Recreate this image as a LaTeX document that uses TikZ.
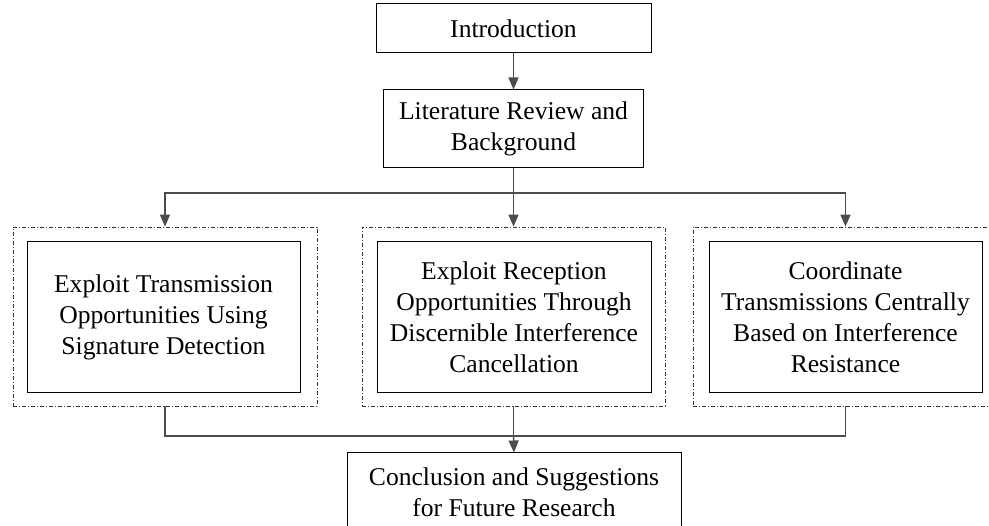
\documentclass[tikz,border=0pt]{standalone}
\usepackage{fontspec}
\setmainfont{Liberation Serif}
\usetikzlibrary{arrows.meta}
\tikzset{
  chapter/.style={draw=black, line width=1pt, align=center, inner sep=0pt, font=\fontsize{25.6}{31}\selectfont},
  group/.style={draw=black!80, line width=0.8pt, dash pattern=on 4pt off 2pt on 1pt off 2pt},
  link/.style={draw=black!70, line width=1.4pt},
  arrow/.style={link, -{Triangle[length=12pt,width=10pt]}}
}
\begin{document}
\begin{tikzpicture}[x=1pt, y=-1pt]
\useasboundingbox (0,0) rectangle (989,526);
\node[chapter, minimum width=275pt, minimum height=49pt] (intro) at (513.5,28.5) {Introduction};
\node[chapter, minimum width=260pt, minimum height=78pt] (review) at (513.5,129) {Literature Review and\\Background};
\node[group, minimum width=304pt, minimum height=179pt] (groupA) at (165,316.5) {};
\node[group, minimum width=303pt, minimum height=179pt] (groupB) at (513.5,316.5) {};
\node[group, minimum width=305pt, minimum height=179pt] (groupC) at (845.5,316.5) {};
\node[chapter, minimum width=273pt, minimum height=151pt] (transmit) at (163.5,317.5) {Exploit Transmission\\Opportunities Using\\Signature Detection};
\node[chapter, minimum width=274pt, minimum height=151pt] (receive) at (514,317.5) {Exploit Reception\\Opportunities Through\\Discernible Interference\\Cancellation};
\node[chapter, minimum width=273pt, minimum height=151pt] (coord) at (845.5,317.5) {Coordinate\\Transmissions Centrally\\Based on Interference\\Resistance};
\node[chapter, minimum width=334pt, minimum height=78pt] (concl) at (514,492) {Conclusion and Suggestions\\for Future Research};
\coordinate (split) at (513.5,193);
\coordinate (merge) at (513.5,436);
\draw[arrow] (intro) -- (review);
\draw[link] (review) -- (split);
\draw[arrow] (split) -| (groupA.north);
\draw[arrow] (split) -- (groupB.north);
\draw[arrow] (split) -| (groupC.north);
\draw[link] (groupA.south) |- (merge);
\draw[link] (groupB.south) -- (merge);
\draw[link] (groupC.south) |- (merge);
\draw[arrow] (merge) -- (concl.north);
\end{tikzpicture}
\end{document}
